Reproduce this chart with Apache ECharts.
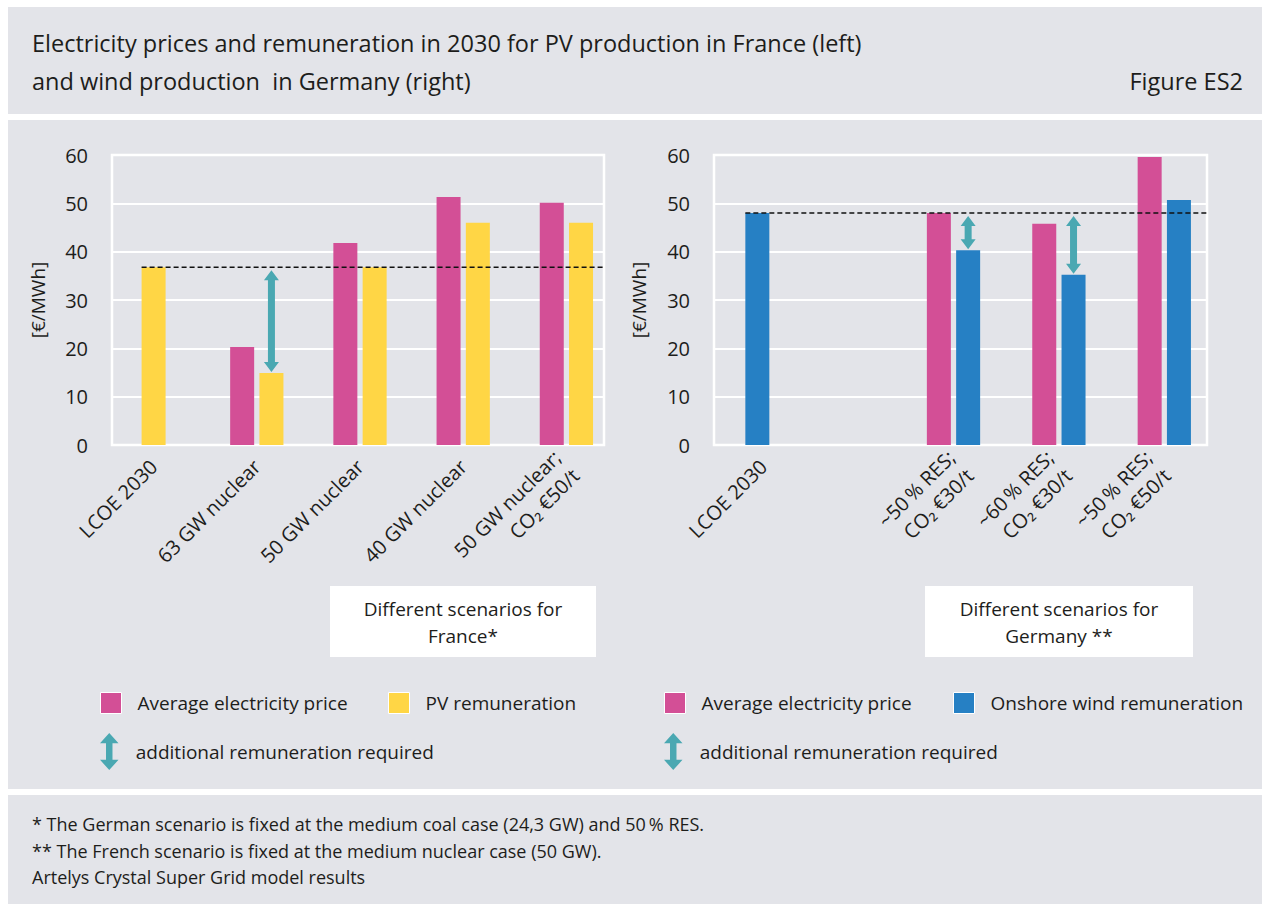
<!DOCTYPE html>
<html><head><meta charset="utf-8">
<script src="https://cdn.jsdelivr.net/npm/echarts@6/dist/echarts.min.js"></script>
<style>html,body{margin:0;padding:0;background:#fff}#c{width:1262px;height:904px}</style>
</head><body><div id="c"></div>
<script>
// ---------- DATA ----------
const frCategories = ['LCOE 2030', '63 GW nuclear', '50 GW nuclear', '40 GW nuclear', '50 GW nuclear;\nCO\u2082 \u20ac50/t'];
const frPrice = [null, 20.3, 41.8, 51.3, 50.1];
const frPV = [36.8, 14.9, 36.8, 46.0, 46.0];
const frLcoe = 36.8;
const frArrows = [[1, 14.9, 36.8]];

const deCategories = ['LCOE 2030', '', '~50\u2009% RES;\nCO\u2082 \u20ac30/t', '~60\u2009% RES;\nCO\u2082 \u20ac30/t', '~50\u2009% RES;\nCO\u2082 \u20ac50/t'];
const dePrice = [null, null, 48.0, 45.8, 59.6];
const deWind = [48.0, null, 40.3, 35.2, 50.7];
const deLcoe = 48.0;
const deArrows = [[2, 40.3, 48.0], [3, 35.2, 48.0]];

const yMin = 0, yMax = 60, yStep = 10;
const yName = '[\u20ac/MWh]';

// ---------- STYLE ----------
const FONT = 'Open Sans';
const TXT = '#1d1d1b';
const BG = '#e3e4e9';
const PINK = '#d34f96', YELLOW = '#ffd645', BLUE = '#2680c4', TEAL = '#4aa8b2';
const BAR_W = 24, GAP = 0.22;
const PAIR_OFF = BAR_W / 2 + BAR_W * GAP / 2;
const TOP = 155, H = 290;
const FR_FRAME = {left: 112, width: 492}, FR_DATA = {left: 102, width: 516};
const DE_FRAME = {left: 714, width: 493}, DE_DATA = {left: 690, width: 527};

const ARROW_ICON = 'path://M10,0 L20,11 L13.5,11 L13.5,29 L20,29 L10,40 L0,29 L6.5,29 L6.5,11 L0,11 Z';

function arrowRender(params, api) {
  const x = api.coord([api.value(0), 0])[0] + PAIR_OFF;
  const yT = api.coord([api.value(0), api.value(2)])[1] + 3;
  const yB = api.coord([api.value(0), api.value(1)])[1] - 1;
  const hw = 7.5, sw = 3.5, hh = 10;
  return {type: 'polygon', shape: {points: [
    [x, yT], [x + hw, yT + hh], [x + sw, yT + hh], [x + sw, yB - hh], [x + hw, yB - hh],
    [x, yB], [x - hw, yB - hh], [x - sw, yB - hh], [x - sw, yT + hh], [x - hw, yT + hh]]},
    style: {fill: TEAL}};
}
function dashedRender(offset, rightEdge) {
  return function (params, api) {
    const p = api.coord([api.value(0), api.value(1)]);
    return {type: 'line', shape: {x1: p[0] + offset - BAR_W / 2, y1: p[1], x2: rightEdge, y2: p[1]},
      style: {stroke: '#111', lineWidth: 1.5, lineDash: [5, 3]}};
  };
}

function frameY(gridIndex, nameGap) {
  return {type: 'value', gridIndex, min: yMin, max: yMax, interval: yStep,
    name: yName, nameLocation: 'middle', nameGap, nameRotate: 90,
    nameTextStyle: {fontFamily: FONT, fontSize: 19, color: TXT},
    axisLine: {show: false}, axisTick: {show: false},
    axisLabel: {fontFamily: FONT, fontSize: 20, color: TXT, margin: 24},
    splitLine: {lineStyle: {color: '#fff', width: 2}}};
}
function hiddenY(gridIndex) {
  return {type: 'value', gridIndex, min: yMin, max: yMax, interval: yStep, show: false};
}
const xLabel = {interval: 0, rotate: 45, fontFamily: FONT, fontSize: 20, color: TXT, margin: 18, lineHeight: 26};

const frPVpair = frPV.map((v, i) => i === 0 ? null : v);
const frPVlcoe = frPV.map((v, i) => i === 0 ? v : null);

function legendItem(left, top, name, icon, w, h, border) {
  return {left, top, padding: 0, itemWidth: w, itemHeight: h, selectedMode: false,
    data: [{name, icon}],
    itemStyle: border ? {borderColor: '#fff', borderWidth: 1} : {borderWidth: 0},
    textStyle: {fontFamily: FONT, fontSize: 19, color: TXT, padding: [0, 0, 0, 11]}};
}

const option = {
  backgroundColor: '#fff',
  animation: false,
  textStyle: {fontFamily: FONT},
  graphic: [
    {type: 'rect', z: -10, shape: {x: 8, y: 7, width: 1254, height: 107}, style: {fill: BG}},
    {type: 'rect', z: -10, shape: {x: 8, y: 120, width: 1254, height: 669}, style: {fill: BG}},
    {type: 'rect', z: -10, shape: {x: 8, y: 795, width: 1254, height: 109}, style: {fill: BG}},
    {type: 'text', left: 32, top: 31, style: {text: 'Electricity prices and remuneration in 2030 for PV production in France (left)', font: '23.5px "Open Sans"', fill: TXT}},
    {type: 'text', left: 32, top: 69, style: {text: 'and wind production  in Germany (right)', font: '23.5px "Open Sans"', fill: TXT}},
    {type: 'text', right: 19, top: 69, style: {text: 'Figure ES2', font: '23.5px "Open Sans"', fill: TXT}},
    {type: 'rect', shape: {x: 330, y: 586, width: 266, height: 71}, style: {fill: '#fff'}},
    {type: 'text', x: 463, y: 622, style: {text: 'Different scenarios for\nFrance*', font: '19px "Open Sans"', fill: TXT, align: 'center', verticalAlign: 'middle', lineHeight: 27}},
    {type: 'rect', shape: {x: 925, y: 586, width: 268, height: 71}, style: {fill: '#fff'}},
    {type: 'text', x: 1059, y: 622, style: {text: 'Different scenarios for\nGermany **', font: '19px "Open Sans"', fill: TXT, align: 'center', verticalAlign: 'middle', lineHeight: 27}},
    {type: 'text', left: 32, top: 815, style: {text: '* The German scenario is fixed at the medium coal case (24,3 GW) and 50\u2009% RES.', font: '18px "Open Sans"', fill: TXT}},
    {type: 'text', left: 32, top: 842, style: {text: '** The French scenario is fixed at the medium nuclear case (50 GW).', font: '18px "Open Sans"', fill: TXT}},
    {type: 'text', left: 32, top: 868, style: {text: 'Artelys Crystal Super Grid model results', font: '18px "Open Sans"', fill: TXT}}
  ],
  legend: [
    legendItem(100, 692, 'Average electricity price', 'rect', 21, 21, true),
    legendItem(388, 692, 'PV remuneration', 'rect', 21, 21, true),
    legendItem(100, 733, 'additional remuneration required', ARROW_ICON, 21, 37, false),
    legendItem(664, 692, 'Average electricity price', 'rect', 21, 21, true),
    legendItem(953, 692, 'Onshore wind remuneration', 'rect', 21, 21, true),
    legendItem(664, 733, 'additional remuneration required', ARROW_ICON, 21, 37, false)
  ],
  grid: [
    {left: FR_FRAME.left, width: FR_FRAME.width, top: TOP, height: H, show: true, borderColor: '#fff', borderWidth: 2.5, backgroundColor: 'transparent'},
    {left: FR_DATA.left, width: FR_DATA.width, top: TOP, height: H},
    {left: DE_FRAME.left, width: DE_FRAME.width, top: TOP, height: H, show: true, borderColor: '#fff', borderWidth: 2.5, backgroundColor: 'transparent'},
    {left: DE_DATA.left, width: DE_DATA.width, top: TOP, height: H}
  ],
  xAxis: [
    {type: 'category', gridIndex: 0, data: frCategories, show: false},
    {type: 'category', gridIndex: 1, data: frCategories, axisLine: {show: false}, axisTick: {show: false}, axisLabel: xLabel},
    {type: 'category', gridIndex: 1, data: frCategories, show: false},
    {type: 'category', gridIndex: 2, data: deCategories, axisLine: {show: false}, axisTick: {show: false}, axisLabel: xLabel},
    {type: 'category', gridIndex: 3, data: deCategories, show: false}
  ],
  yAxis: [frameY(0, 65), hiddenY(1), frameY(2, 66), hiddenY(3)],
  series: [
    {name: 'Average electricity price', type: 'bar', xAxisIndex: 1, yAxisIndex: 1, data: frPrice, barWidth: BAR_W, barGap: (GAP * 100) + '%', itemStyle: {color: PINK}},
    {name: 'PV remuneration', type: 'bar', xAxisIndex: 1, yAxisIndex: 1, data: frPVpair, barWidth: BAR_W, barGap: (GAP * 100) + '%', itemStyle: {color: YELLOW}},
    {name: 'PV remuneration', type: 'bar', xAxisIndex: 2, yAxisIndex: 1, data: frPVlcoe, barWidth: BAR_W, itemStyle: {color: YELLOW}},
    {name: 'frLcoeLine', type: 'custom', xAxisIndex: 2, yAxisIndex: 1, data: [[0, frLcoe]], encode: {x: 0, y: 1}, z: 5,
      renderItem: dashedRender(0, FR_FRAME.left + FR_FRAME.width), silent: true},
    {name: 'additional remuneration required', type: 'custom', xAxisIndex: 1, yAxisIndex: 1, data: frArrows, encode: {x: 0, y: [1, 2]}, z: 6,
      itemStyle: {color: TEAL}, renderItem: arrowRender},
    {name: 'Average electricity price', type: 'bar', xAxisIndex: 4, yAxisIndex: 3, data: dePrice, barWidth: BAR_W, barGap: (GAP * 100) + '%', itemStyle: {color: PINK}},
    {name: 'Onshore wind remuneration', type: 'bar', xAxisIndex: 4, yAxisIndex: 3, data: deWind, barWidth: BAR_W, barGap: (GAP * 100) + '%', itemStyle: {color: BLUE}},
    {name: 'deLcoeLine', type: 'custom', xAxisIndex: 4, yAxisIndex: 3, data: [[0, deLcoe]], encode: {x: 0, y: 1}, z: 5,
      renderItem: dashedRender(PAIR_OFF, DE_FRAME.left + DE_FRAME.width), silent: true},
    {name: 'additional remuneration required', type: 'custom', xAxisIndex: 4, yAxisIndex: 3, data: deArrows, encode: {x: 0, y: [1, 2]}, z: 6,
      itemStyle: {color: TEAL}, renderItem: arrowRender}
  ]
};
const chart = echarts.init(document.getElementById('c'), null, {renderer: 'svg'});
chart.setOption(option);
</script></body></html>
